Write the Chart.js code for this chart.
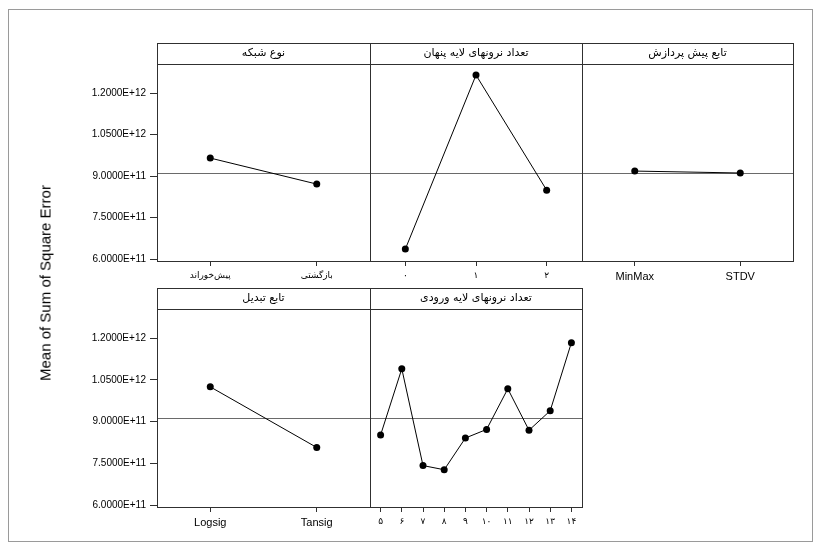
<!DOCTYPE html>
<html>
<head>
<meta charset="utf-8">
<script src="https://cdn.jsdelivr.net/npm/chart.js@4.4.1/dist/chart.umd.min.js"></script>
<style>
  body { margin: 0; background: #fff; }
  #wrap { position: relative; width: 821px; height: 552px; overflow: hidden; }
  #wrap canvas { position: absolute; left: 0; top: 0; }
  #frame { position: absolute; left: 8px; top: 9px; width: 803px; height: 531px; border: 1px solid #9a9a9a; }
  #ytitle {
    position: absolute; left: 45px; top: 283px; white-space: nowrap;
    font: 15px 'Liberation Sans', Arial, sans-serif; color: #000;
    transform: translate(-50%, -50%) rotate(-90deg);
  }
</style>
</head>
<body>
<div id="wrap">
  <div id="frame"></div>
  <canvas id="p1" width="821" height="552"></canvas>
  <canvas id="p2" width="821" height="552"></canvas>
  <canvas id="p3" width="821" height="552"></canvas>
  <canvas id="p4" width="821" height="552"></canvas>
  <canvas id="p5" width="821" height="552"></canvas>
  <div id="ytitle">Mean of Sum of Square Error</div>
</div>
<script>
// setup
const yTicks = [6.0e11, 7.5e11, 9.0e11, 1.05e12, 1.2e12];
const grandMean = 9.12e11;

const netTypeTitle = 'نوع شبکه';
const netTypeLabels = ['پیش‌خوراند', 'بازگشتی'];
const netTypeMeans = [9.65e11, 8.71e11];

const hiddenTitle = 'تعداد نرونهای لایه پنهان';
const hiddenLabels = ['۰', '۱', '۲'];
const hiddenMeans = [6.36e11, 1.265e12, 8.49e11];

const preTitle = 'تابع پیش پردازش';
const preLabels = ['MinMax', 'STDV'];
const preMeans = [9.18e11, 9.11e11];

const transferTitle = 'تابع تبدیل';
const transferLabels = ['Logsig', 'Tansig'];
const transferMeans = [1.025e12, 8.07e11];

const inputTitle = 'تعداد نرونهای لایه ورودی';
const inputLabels = ['۵', '۶', '۷', '۸', '۹', '۱۰', '۱۱', '۱۲', '۱۳', '۱۴'];
const inputMeans = [8.52e11, 1.090e12, 7.42e11, 7.27e11, 8.41e11, 8.72e11, 1.018e12, 8.69e11, 9.39e11, 1.184e12];

Chart.defaults.color = '#000';
Chart.defaults.animation = false;

// panel frame, title strip and the grand mean line
const panelPlugin = {
  id: 'panel',
  beforeDatasetsDraw(chart, args, opts) {
    const { ctx, chartArea: a, scales } = chart;
    const y = Math.round(scales.y.getPixelForValue(grandMean)) + 0.5;
    ctx.save();
    ctx.strokeStyle = '#6a6a6a';
    ctx.lineWidth = 1;
    ctx.beginPath();
    ctx.moveTo(a.left, y);
    ctx.lineTo(a.right, y);
    ctx.stroke();
    ctx.restore();
  },
  afterDraw(chart, args, opts) {
    const { ctx, chartArea: a } = chart;
    const stripTop = a.top - 21;
    ctx.save();
    ctx.strokeStyle = '#303030';
    ctx.lineWidth = 1;
    ctx.strokeRect(a.left + 0.5, stripTop + 0.5, a.right - a.left, a.bottom - stripTop);
    ctx.beginPath();
    ctx.moveTo(a.left, a.top + 0.5);
    ctx.lineTo(a.right + 1, a.top + 0.5);
    ctx.stroke();
    ctx.fillStyle = '#000';
    ctx.font = "11px 'DejaVu Sans'";
    ctx.textAlign = 'center';
    ctx.textBaseline = 'middle';
    ctx.direction = 'rtl';
    ctx.fillText(opts.title, (a.left + a.right) / 2, stripTop + 10);
    ctx.restore();
  }
};

function makePanel(id, title, labels, values, box) {
  const latin = /[A-Za-z]/.test(labels[0]);
  return new Chart(document.getElementById(id), {
    type: 'line',
    data: {
      labels: labels,
      datasets: [{
        data: values,
        borderColor: '#000',
        backgroundColor: '#000',
        borderWidth: 1,
        pointRadius: 3.5,
        pointBorderWidth: 0,
        tension: 0
      }]
    },
    options: {
      responsive: false,
      layout: {
        padding: {
          left: box.showY ? box.left - 100 : box.left,
          right: 821 - box.right,
          top: box.top,
          bottom: 552 - box.bottom - 30
        }
      },
      plugins: {
        legend: { display: false },
        tooltip: { enabled: false },
        panel: { title: title }
      },
      scales: {
        x: {
          type: 'category',
          offset: true,
          grid: { offset: false, drawOnChartArea: false, tickLength: 5, color: '#303030' },
          border: { display: false },
          ticks: {
            autoSkip: false, maxRotation: 0, padding: 4,
            font: latin ? { family: "'Liberation Sans'", size: 11 } : { family: "'DejaVu Sans'", size: 9 }
          },
          afterFit(scale) { scale.height = 30; }
        },
        y: {
          display: box.showY,
          min: 5.93e11,
          max: 1.305e12,
          afterBuildTicks(scale) { scale.ticks = yTicks.map(v => ({ value: v })); },
          grid: { drawOnChartArea: false, tickLength: 7, color: '#303030' },
          border: { display: false },
          ticks: {
            padding: 4,
            font: { family: "'Liberation Sans'", size: 10 },
            callback: v => v.toExponential(4).toUpperCase()
          },
          afterFit(scale) { scale.width = box.showY ? 100 : 0; }
        }
      }
    },
    plugins: [panelPlugin]
  });
}

// render init block
makePanel('p1', netTypeTitle, netTypeLabels, netTypeMeans, { left: 157, right: 370, top: 64, bottom: 261, showY: true });
makePanel('p2', hiddenTitle, hiddenLabels, hiddenMeans, { left: 370, right: 582, top: 64, bottom: 261, showY: false });
makePanel('p3', preTitle, preLabels, preMeans, { left: 582, right: 793, top: 64, bottom: 261, showY: false });
makePanel('p4', transferTitle, transferLabels, transferMeans, { left: 157, right: 370, top: 309, bottom: 507, showY: true });
makePanel('p5', inputTitle, inputLabels, inputMeans, { left: 370, right: 582, top: 309, bottom: 507, showY: false });
</script>
</body>
</html>
